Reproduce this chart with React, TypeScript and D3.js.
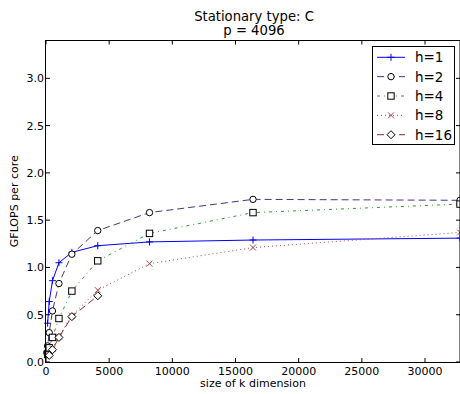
import React from "react";
import * as d3 from "d3";

const title1 = "Stationary type: C";
const title2 = "p = 4096";
const xLabel = "size of k dimension";
const yLabel = "GFLOPS per core";
const xTicks = [0, 5000, 10000, 15000, 20000, 25000, 30000];
const yTicks = [0, 0.5, 1.0, 1.5, 2.0, 2.5, 3.0];

const k1 = [128, 256, 512, 1024, 2048, 4096, 8192, 16384, 32768];
const h1 = [0.41, 0.64, 0.86, 1.05, 1.16, 1.23, 1.27, 1.29, 1.31];
const k2 = [64, 128, 256, 512, 1024, 2048, 4096, 8192, 16384, 32768];
const h2 = [0.1, 0.17, 0.31, 0.54, 0.83, 1.14, 1.39, 1.58, 1.72, 1.71];
const k4 = [128, 256, 512, 1024, 2048, 4096, 8192, 16384, 32768];
const h4 = [0.08, 0.15, 0.26, 0.46, 0.75, 1.07, 1.36, 1.58, 1.67];
const k8 = [256, 512, 1024, 2048, 4096, 8192, 16384, 32768];
const h8 = [0.07, 0.14, 0.27, 0.49, 0.76, 1.04, 1.21, 1.37];
const k16 = [256, 512, 1024, 2048, 4096];
const h16 = [0.07, 0.13, 0.26, 0.48, 0.7];

type Series = { name: string; k: number[]; v: number[]; color: string; dash: string; marker: string };
const series: Series[] = [
  { name: "h=1", k: k1, v: h1, color: "#0000ff", dash: "", marker: "plus" },
  { name: "h=2", k: k2, v: h2, color: "#4a3580", dash: "7,4", marker: "circle" },
  { name: "h=4", k: k4, v: h4, color: "#2a9a2a", dash: "3,4,1,4", marker: "square" },
  { name: "h=8", k: k8, v: h8, color: "#a04848", dash: "1,3", marker: "x" },
  { name: "h=16", k: k16, v: h16, color: "#7a3030", dash: "7,4", marker: "diamond" },
];

const L = 46, R = 460, T = 40.5, B = 362;
const x = d3.scaleLinear().domain([0, 32768]).range([L, R]);
const y = d3.scaleLinear().domain([0, 3.4]).range([B, T]);

function Marker({ type, cx, cy, color }: { type: string; cx: number; cy: number; color: string }) {
  if (type === "plus")
    return <path d={`M${cx - 3.5},${cy}H${cx + 3.5}M${cx},${cy - 3.5}V${cy + 3.5}`} stroke={color} strokeWidth={1} />;
  if (type === "x")
    return <path d={`M${cx - 3},${cy - 3}L${cx + 3},${cy + 3}M${cx - 3},${cy + 3}L${cx + 3},${cy - 3}`} stroke={color} strokeWidth={1} />;
  if (type === "circle") return <circle cx={cx} cy={cy} r={3.2} fill="#fff" stroke="#000" strokeWidth={1} />;
  if (type === "square") return <rect x={cx - 3.2} y={cy - 3.2} width={6.4} height={6.4} fill="#fff" stroke="#000" strokeWidth={1} />;
  return <path d={`M${cx},${cy - 4}L${cx + 4},${cy}L${cx},${cy + 4}L${cx - 4},${cy}Z`} fill="#fff" stroke="#000" strokeWidth={1} />;
}

export default function App() {
  const line = d3.line<[number, number]>().x((d) => x(d[0])).y((d) => y(d[1]));
  const font = "DejaVu Sans, sans-serif";
  const legX = 372.5, legY = 46.5;
  return (
    <svg width={460} height={394} style={{ position: "absolute", left: 0, top: 0 }} fontFamily={font}>
      <rect x={0} y={0} width={460} height={394} fill="#fff" />
      <defs>
        <clipPath id="clip">
          <rect x={L} y={T} width={R - L} height={B - T} />
        </clipPath>
      </defs>
      <text x={254} y={20.5} textAnchor="middle" fontSize={13.2}>{title1}</text>
      <text x={254} y={35} textAnchor="middle" fontSize={13.2}>{title2}</text>
      <g clipPath="url(#clip)">
        {series.map((s) => (
          <path key={s.name} d={line(s.k.map((kk, i) => [kk, s.v[i]]))!} fill="none" stroke={s.color} strokeWidth={1} strokeDasharray={s.dash} />
        ))}
      </g>
      {series.map((s) => (
        <g key={s.name + "m"}>
          {s.k.map((kk, i) => (
            <Marker key={i} type={s.marker} cx={x(kk)} cy={y(s.v[i])} color={s.color} />
          ))}
        </g>
      ))}
      <rect x={L - 0.5} y={T} width={R - L + 0.5} height={B - T + 0.5} fill="none" stroke="#000" strokeWidth={1} />
      {xTicks.map((t) => (
        <g key={"x" + t}>
          <line x1={x(t)} x2={x(t)} y1={B} y2={B - 4} stroke="#000" />
          <line x1={x(t)} x2={x(t)} y1={T} y2={T + 4} stroke="#000" />
          <text x={x(t)} y={374.5} textAnchor="middle" fontSize={11}>{t}</text>
        </g>
      ))}
      {yTicks.map((t) => (
        <g key={"y" + t}>
          <line x1={L} x2={L + 4} y1={y(t)} y2={y(t)} stroke="#000" />
          <line x1={R} x2={R - 4} y1={y(t)} y2={y(t)} stroke="#000" />
          <text x={L - 2} y={y(t) + 4} textAnchor="end" fontSize={11}>{t.toFixed(1)}</text>
        </g>
      ))}
      <text x={253} y={387} textAnchor="middle" fontSize={11}>{xLabel}</text>
      <text transform={`translate(18,${(T + B) / 2}) rotate(-90)`} textAnchor="middle" fontSize={11}>{yLabel}</text>
      <rect x={legX} y={legY} width={82} height={98} fill="#fff" stroke="#000" strokeWidth={1} />
      {series.map((s, i) => {
        const cy = 57.3 + i * 19.35;
        return (
          <g key={s.name + "l"}>
            <line x1={377} x2={405} y1={cy} y2={cy} stroke={s.color} strokeWidth={1} strokeDasharray={s.dash} />
            <Marker type={s.marker} cx={391} cy={cy} color={s.color} />
            <text x={415} y={cy + 5} fontSize={13.5}>{s.name}</text>
          </g>
        );
      })}
    </svg>
  );
}
